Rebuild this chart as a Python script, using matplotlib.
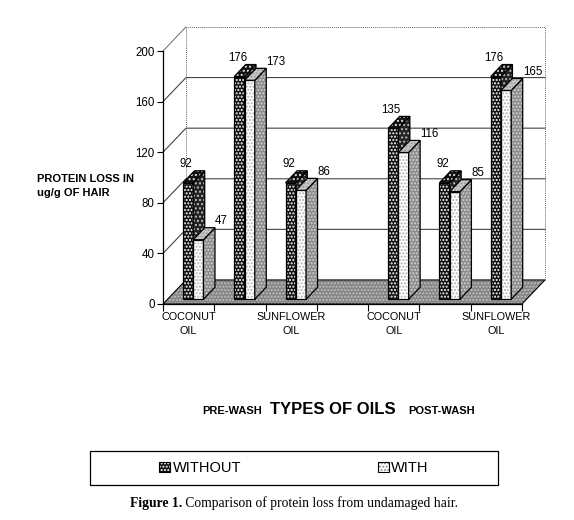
import numpy as np
import matplotlib.pyplot as plt
from matplotlib.patches import Polygon, Rectangle

plt.rcParams['font.family'] = ['Liberation Sans', 'DejaVu Sans']

# data (slot 4 is the gap between pre-wash and post-wash groups)
categories = ['COCONUT\nOIL', '', 'SUNFLOWER\nOIL', '', 'COCONUT\nOIL', '', 'SUNFLOWER\nOIL']
without_oil = [92, 176, 92, np.nan, 135, 92, 176]
with_oil = [47, 173, 86, np.nan, 116, 85, 165]
y_ticks = [0, 40, 80, 120, 160, 200]
series_names = ['WITHOUT', 'WITH']

# fake 3d depth (in data units)
DX, DY = 0.448, 19.0
BAR_W = 0.2
D0, D1 = 0.2, 0.7

fig = plt.figure(figsize=(5.74, 5.2), dpi=100)
ax = fig.add_axes([163/574, 1 - 304/520, 359/574, 253/520])
ax.set_xlim(-0.5, len(categories) - 0.5)
ax.set_ylim(0, 200)
ax.patch.set_visible(False)

x_lo, x_hi = -0.5, len(categories) - 0.5


def face(verts, fc, hatch=None, hc='white', ec='black', lw=0.9, z=3, ls='-'):
    ax.add_patch(Polygon(verts, closed=True, facecolor=fc, edgecolor='none', zorder=z, clip_on=False))
    if hatch:
        ax.add_patch(Polygon(verts, closed=True, facecolor='none', edgecolor=hc, hatch=hatch,
                             linewidth=0, zorder=z, clip_on=False))
    ax.add_patch(Polygon(verts, closed=True, facecolor='none', edgecolor=ec, linewidth=lw,
                         linestyle=ls, zorder=z, clip_on=False))


# back wall, left wall, gridlines
face([(x_lo + DX, DY), (x_hi + DX, DY), (x_hi + DX, 200 + DY), (x_lo + DX, 200 + DY)],
     'white', ec='#666666', lw=0.7, z=0, ls=(0, (1, 1)))
ax.plot([x_lo, x_lo + DX], [200, 200 + DY], color='#555555', lw=0.6, clip_on=False, zorder=1)
for v in y_ticks[1:-1]:
    ax.plot([x_lo, x_lo + DX, x_hi + DX], [v, v + DY, v + DY], color='#444444', lw=0.8,
            clip_on=False, zorder=1)

# floor
face([(x_lo, 0), (x_hi, 0), (x_hi + DX, DY), (x_lo + DX, DY)], '#858585', hatch='.....',
     hc='#c0c0c0', lw=0.8, z=2)


def bar3d(x, h, style, z):
    fx = x + D0 * DX
    fy = D0 * DY
    ddx, ddy = (D1 - D0) * DX, (D1 - D0) * DY
    front = [(fx, fy), (fx + BAR_W, fy), (fx + BAR_W, fy + h), (fx, fy + h)]
    side = [(fx + BAR_W, fy), (fx + BAR_W + ddx, fy + ddy), (fx + BAR_W + ddx, fy + h + ddy),
            (fx + BAR_W, fy + h)]
    top = [(fx, fy + h), (fx + BAR_W, fy + h), (fx + BAR_W + ddx, fy + h + ddy), (fx + ddx, fy + h + ddy)]
    if style == 'without':
        face(front, '#111111', '.....', 'white', z=z)
        face(side, '#222222', '....', '#bbbbbb', z=z)
        face(top, '#111111', '....', '#dddddd', z=z)
    else:
        face(front, 'white', '.....', '#b0b0b0', z=z)
        face(side, '#8c8c8c', '.....', '#d0d0d0', z=z)
        face(top, '#c8c8c8', '.....', '#999999', z=z)
    return fx, fy, ddx, ddy


for i in range(len(categories)):
    if np.isnan(without_oil[i]):
        continue
    fx, fy, ddx, ddy = bar3d(i - BAR_W, without_oil[i], 'without', 3 + i)
    ax.text(fx + 0.06, fy + without_oil[i] + ddy + 5, f'{without_oil[i]:g}', ha='center',
            va='center', fontsize=8.3, zorder=20)
    fx, fy, ddx, ddy = bar3d(i, with_oil[i], 'with', 3 + i)
    ax.text(fx + BAR_W + ddx, fy + with_oil[i] + ddy + 5, f'{with_oil[i]:g}', ha='left',
            va='center', fontsize=8.3, zorder=20)

# axes styling
for s in ['top', 'right']:
    ax.spines[s].set_visible(False)
ax.spines['left'].set_linewidth(0.9)
ax.spines['bottom'].set_linewidth(0.9)
ax.spines['bottom'].set_zorder(30)
ax.set_yticks(y_ticks)
ax.tick_params(axis='y', length=4, width=0.8, labelsize=8.3, pad=2)
ax.set_xticks(np.arange(len(categories)))
ax.set_xticklabels(categories, fontsize=7.8, linespacing=1.4)
ax.tick_params(axis='x', which='major', length=0, pad=6)
ax.set_xticks(np.arange(-0.5, len(categories), 1), minor=True)
ax.tick_params(axis='x', which='minor', length=5, width=0.8)

fig.text(37/574, 1 - 186/520, 'PROTEIN LOSS IN\nug/g OF HAIR', fontsize=8,
         fontweight='bold', ha='left', va='center', linespacing=1.4)

# x title
fig.text(202/574, 1 - 414/520, 'PRE-WASH', fontsize=8, fontweight='bold', va='baseline')
fig.text(333/574, 1 - 414/520, 'TYPES OF OILS', fontsize=12, fontweight='bold', va='baseline',
         ha='center')
fig.text(408/574, 1 - 414/520, 'POST-WASH', fontsize=8, fontweight='bold', va='baseline')

# legend
fig.patches.append(Rectangle((90/574, 1 - 485/520), 408/574, 34/520, transform=fig.transFigure,
                             facecolor='none', edgecolor='black', linewidth=0.9))


def handle(fc, hatch, hc):
    return (Rectangle((0, 0), 1, 1, facecolor=fc, edgecolor='none'),
            Rectangle((0, 0), 1, 1, facecolor='none', edgecolor=hc, hatch=hatch, linewidth=0),
            Rectangle((0, 0), 1, 1, facecolor='none', edgecolor='black', linewidth=0.8))


fig.legend([handle('#111111', '.....', 'white'), handle('white', '.....', '#888888')], series_names,
           loc='center', bbox_to_anchor=(294/574, 1 - 468/520), ncol=2, frameon=False,
           fontsize=10.5, handlelength=0.75, handleheight=0.75, handletextpad=0.15,
           columnspacing=9.4)

# caption
serif = ['Liberation Serif', 'DejaVu Serif']
cap = fig.text(130/574, 1 - 507/520, 'Figure 1.', family=serif, fontweight='bold', fontsize=9.8,
               va='baseline')
ax.annotate(' Comparison of protein loss from undamaged hair.', xy=(1, 0), xycoords=cap,
            va='bottom', fontsize=9.8, family=serif, annotation_clip=False)

fig.savefig('out.png', dpi=100)
